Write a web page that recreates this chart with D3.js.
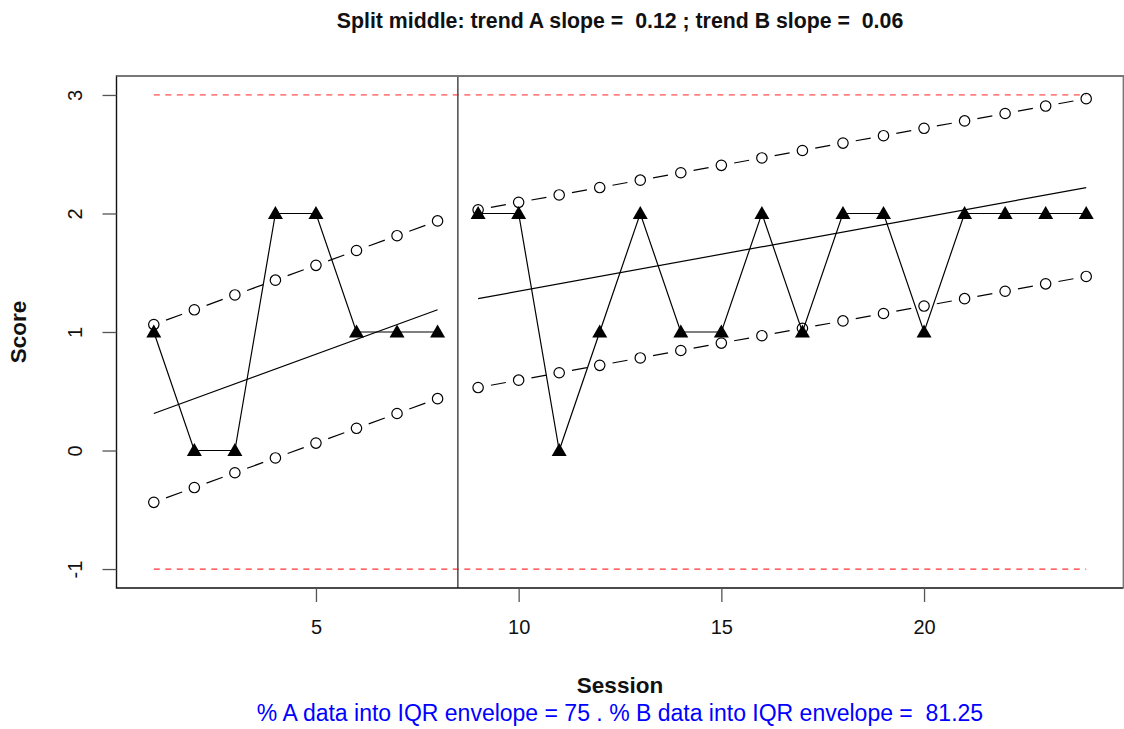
<!DOCTYPE html>
<html>
<head>
<meta charset="utf-8">
<script src="https://cdn.jsdelivr.net/npm/d3@7"></script>
<style>
  html, body { margin: 0; padding: 0; background: #fff; }
  svg { display: block; font-family: "Liberation Sans", Arial, Helvetica, sans-serif; }
  svg text { white-space: pre; }
</style>
</head>
<body>
<svg id="chart" width="1124" height="729"></svg>
<script>
// ---- data ----
const sessionsA = [1, 2, 3, 4, 5, 6, 7, 8];
const scoresA   = [1, 0, 0, 2, 2, 1, 1, 1];
const sessionsB = [9, 10, 11, 12, 13, 14, 15, 16, 17, 18, 19, 20, 21, 22, 23, 24];
const scoresB   = [2, 2, 0, 1, 2, 1, 1, 2, 1, 2, 2, 1, 2, 2, 2, 2];

const trendASessions = [1, 8];
const trendAValues   = [0.3125, 1.1875];
const trendBSessions = [9, 24];
const trendBValues   = [1.28125, 2.21875];

const envAUpper = [1.0625, 1.1875, 1.3125, 1.4375, 1.5625, 1.6875, 1.8125, 1.9375];
const envALower = [-0.4375, -0.3125, -0.1875, -0.0625, 0.0625, 0.1875, 0.3125, 0.4375];
const envBUpper = [2.03125, 2.09375, 2.15625, 2.21875, 2.28125, 2.34375, 2.40625, 2.46875,
                   2.53125, 2.59375, 2.65625, 2.71875, 2.78125, 2.84375, 2.90625, 2.96875];
const envBLower = [0.53125, 0.59375, 0.65625, 0.71875, 0.78125, 0.84375, 0.90625, 0.96875,
                   1.03125, 1.09375, 1.15625, 1.21875, 1.28125, 1.34375, 1.40625, 1.46875];

const limitLines = [3, -1];
const limitSessions = [1, 24];
const phaseSplit = 8.5;

const xTicks = [5, 10, 15, 20];
const yTicks = [-1, 0, 1, 2, 3];

const titleText = "Split middle: trend A slope =  0.12 ; trend B slope =  0.06";
const xLabel = "Session";
const yLabel = "Score";
const subText = "% A data into IQR envelope = 75 . % B data into IQR envelope =  81.25";

// ---- layout ----
const svg = d3.select("#chart");
const L = 116.5, R = 1123.5, T = 76, B = 588;
const x = d3.scaleLinear().domain([0.08, 24.92]).range([L, R]);
const y = d3.scaleLinear().domain([-1.16, 3.16]).range([B, T]);

// red limit lines
limitLines.forEach((v, i) => {
  svg.append("line")
    .attr("x1", x(limitSessions[0])).attr("x2", x(limitSessions[1]))
    .attr("y1", y(v)).attr("y2", y(v))
    .attr("stroke", i === 0 ? "#ff8080" : "#ff3333").attr("stroke-width", i === 0 ? 1.8 : 1.3)
    .attr("stroke-dasharray", "6,5.5");
});

// envelopes (type "b": points with gapped segments)
function envelope(sessions, values) {
  const g = svg.append("g");
  const gap = 13;
  for (let i = 0; i < sessions.length - 1; i++) {
    const x1 = x(sessions[i]), y1 = y(values[i]);
    const x2 = x(sessions[i + 1]), y2 = y(values[i + 1]);
    const dx = x2 - x1, dy = y2 - y1, len = Math.hypot(dx, dy);
    const ux = dx / len, uy = dy / len;
    g.append("line")
      .attr("x1", x1 + ux * gap).attr("y1", y1 + uy * gap)
      .attr("x2", x2 - ux * gap).attr("y2", y2 - uy * gap)
      .attr("stroke", "#000").attr("stroke-width", 1.2);
  }
  g.selectAll("circle").data(sessions).join("circle")
    .attr("cx", d => x(d)).attr("cy", (d, i) => y(values[i]))
    .attr("r", 5.2).attr("fill", "none").attr("stroke", "#000").attr("stroke-width", 1.2);
}
envelope(sessionsA, envAUpper);
envelope(sessionsA, envALower);
envelope(sessionsB, envBUpper);
envelope(sessionsB, envBLower);

// trend lines
[[trendASessions, trendAValues], [trendBSessions, trendBValues]].forEach(([s, v]) => {
  svg.append("line")
    .attr("x1", x(s[0])).attr("y1", y(v[0]))
    .attr("x2", x(s[1])).attr("y2", y(v[1]))
    .attr("stroke", "#000").attr("stroke-width", 1.2);
});

// data series
const line = d3.line().x(d => x(d[0])).y(d => y(d[1]));
function series(sessions, scores) {
  const pts = sessions.map((s, i) => [s, scores[i]]);
  svg.append("path").datum(pts).attr("d", line)
    .attr("fill", "none").attr("stroke", "#000").attr("stroke-width", 1.2);
  svg.append("g").selectAll("path").data(pts).join("path")
    .attr("d", d => {
      const cx = x(d[0]), cy = y(d[1]);
      return `M${cx},${cy - 7.5}L${cx + 7.5},${cy + 5.5}L${cx - 7.5},${cy + 5.5}Z`;
    })
    .attr("fill", "#000");
}
series(sessionsA, scoresA);
series(sessionsB, scoresB);

// phase split line
svg.append("line")
  .attr("x1", x(phaseSplit)).attr("x2", x(phaseSplit))
  .attr("y1", T).attr("y2", B)
  .attr("stroke", "#555").attr("stroke-width", 1.6);

// box
svg.append("path")
  .attr("d", `M${R},${T}H${L}V${B}H${R}`)
  .attr("fill", "none").attr("stroke", "#111").attr("stroke-width", 1.4);
svg.append("path")
  .attr("d", `M${L},${T}H${R}V${B}`)
  .attr("fill", "none").attr("stroke", "#777").attr("stroke-width", 1.8);

// axes
const fontFam = "'Liberation Sans', Arial, sans-serif";
const xAxis = svg.append("g").attr("transform", `translate(0,${B})`)
  .call(d3.axisBottom(x).tickValues(xTicks).tickSize(14).tickPadding(18).tickFormat(d => String(d)));
xAxis.select(".domain").remove();
xAxis.selectAll("line").attr("stroke", "#555").attr("stroke-width", 1.3);
xAxis.selectAll("text").attr("font-size", 20).attr("fill", "#111").attr("font-family", fontFam);

const yAxis = svg.append("g").attr("transform", `translate(${L},0)`)
  .call(d3.axisLeft(y).tickValues(yTicks).tickSize(14).tickFormat(d => String(d)));
yAxis.select(".domain").remove();
yAxis.selectAll("line").attr("stroke", "#555").attr("stroke-width", 1.3);
yAxis.selectAll("text")
  .attr("font-size", 20).attr("fill", "#111").attr("font-family", fontFam)
  .attr("x", null).attr("dy", null)
  .attr("text-anchor", "middle")
  .attr("transform", "translate(-42,0) rotate(-90)")
  .attr("dominant-baseline", "central");

// titles
const cx = (L + R) / 2;
svg.append("text").attr("x", cx).attr("y", 28).attr("text-anchor", "middle")
  .attr("font-weight", "bold").attr("font-size", 21.3).attr("fill", "#111").text(titleText);
svg.append("text").attr("x", cx).attr("y", 693).attr("text-anchor", "middle")
  .attr("font-weight", "bold").attr("font-size", 22.5).attr("fill", "#111").text(xLabel);
svg.append("text").attr("transform", `translate(26,${(T + B) / 2}) rotate(-90)`)
  .attr("text-anchor", "middle")
  .attr("font-weight", "bold").attr("font-size", 22.5).attr("fill", "#111").text(yLabel);
svg.append("text").attr("x", cx).attr("y", 721).attr("text-anchor", "middle")
  .attr("font-size", 23).attr("fill", "#0000ff").text(subText);
</script>
</body>
</html>
